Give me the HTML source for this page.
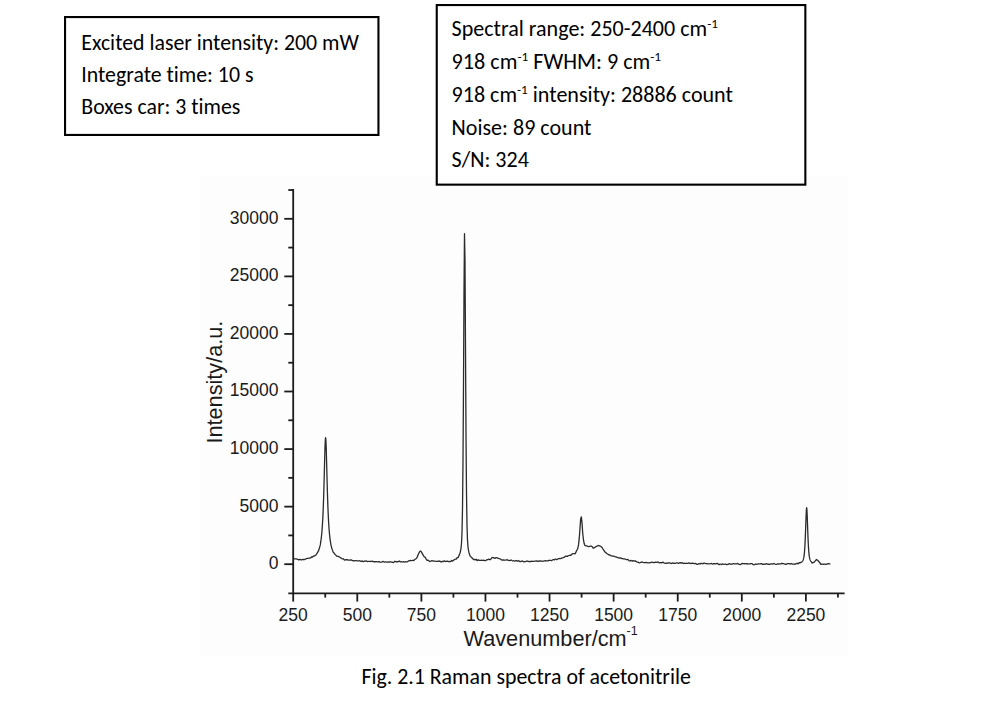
<!DOCTYPE html>
<html><head><meta charset="utf-8"><title>Raman spectra of acetonitrile</title>
<style>
html,body{margin:0;padding:0;background:#fff;width:1000px;height:722px;overflow:hidden;}
svg{position:absolute;left:0;top:0;}
.tk{font-family:"Liberation Sans",Arial,sans-serif;font-size:17.5px;fill:#1a1a1a;}
.ti{font-family:"Liberation Sans",Arial,sans-serif;font-size:21.7px;fill:#1a1a1a;}
.cb{font-family:"Carlito","Liberation Sans",sans-serif;font-size:21.7px;fill:#000;font-variant-ligatures:none;}
</style></head><body>
<svg width="1000" height="722" viewBox="0 0 1000 722">
<rect x="200" y="176" width="648" height="480" fill="#fdfdfd"/>
<line x1="293.2" y1="189.1" x2="293.2" y2="594.3" stroke="#1c1c1c" stroke-width="1.8"/>
<line x1="288.3" y1="593.4" x2="844.6" y2="593.4" stroke="#1c1c1c" stroke-width="1.8"/>
<line x1="284.3" y1="564.20" x2="293.2" y2="564.20" stroke="#1c1c1c" stroke-width="1.8"/>
<text x="278.5" y="569.10" text-anchor="end" class="tk">0</text>
<line x1="284.3" y1="506.64" x2="293.2" y2="506.64" stroke="#1c1c1c" stroke-width="1.8"/>
<text x="278.5" y="511.54" text-anchor="end" class="tk">5000</text>
<line x1="284.3" y1="449.07" x2="293.2" y2="449.07" stroke="#1c1c1c" stroke-width="1.8"/>
<text x="278.5" y="453.97" text-anchor="end" class="tk">10000</text>
<line x1="284.3" y1="391.50" x2="293.2" y2="391.50" stroke="#1c1c1c" stroke-width="1.8"/>
<text x="278.5" y="396.40" text-anchor="end" class="tk">15000</text>
<line x1="284.3" y1="333.94" x2="293.2" y2="333.94" stroke="#1c1c1c" stroke-width="1.8"/>
<text x="278.5" y="338.84" text-anchor="end" class="tk">20000</text>
<line x1="284.3" y1="276.38" x2="293.2" y2="276.38" stroke="#1c1c1c" stroke-width="1.8"/>
<text x="278.5" y="281.28" text-anchor="end" class="tk">25000</text>
<line x1="284.3" y1="218.81" x2="293.2" y2="218.81" stroke="#1c1c1c" stroke-width="1.8"/>
<text x="278.5" y="223.71" text-anchor="end" class="tk">30000</text>
<line x1="288.3" y1="535.42" x2="293.2" y2="535.42" stroke="#1c1c1c" stroke-width="1.8"/>
<line x1="288.3" y1="477.85" x2="293.2" y2="477.85" stroke="#1c1c1c" stroke-width="1.8"/>
<line x1="288.3" y1="420.29" x2="293.2" y2="420.29" stroke="#1c1c1c" stroke-width="1.8"/>
<line x1="288.3" y1="362.72" x2="293.2" y2="362.72" stroke="#1c1c1c" stroke-width="1.8"/>
<line x1="288.3" y1="305.16" x2="293.2" y2="305.16" stroke="#1c1c1c" stroke-width="1.8"/>
<line x1="288.3" y1="247.59" x2="293.2" y2="247.59" stroke="#1c1c1c" stroke-width="1.8"/>
<line x1="288.3" y1="190.03" x2="293.2" y2="190.03" stroke="#1c1c1c" stroke-width="1.8"/>
<line x1="293.20" y1="593.4" x2="293.20" y2="601.6" stroke="#1c1c1c" stroke-width="1.8"/>
<text x="293.20" y="620.9" text-anchor="middle" class="tk">250</text>
<line x1="357.29" y1="593.4" x2="357.29" y2="601.6" stroke="#1c1c1c" stroke-width="1.8"/>
<text x="357.29" y="620.9" text-anchor="middle" class="tk">500</text>
<line x1="421.38" y1="593.4" x2="421.38" y2="601.6" stroke="#1c1c1c" stroke-width="1.8"/>
<text x="421.38" y="620.9" text-anchor="middle" class="tk">750</text>
<line x1="485.46" y1="593.4" x2="485.46" y2="601.6" stroke="#1c1c1c" stroke-width="1.8"/>
<text x="485.46" y="620.9" text-anchor="middle" class="tk">1000</text>
<line x1="549.55" y1="593.4" x2="549.55" y2="601.6" stroke="#1c1c1c" stroke-width="1.8"/>
<text x="549.55" y="620.9" text-anchor="middle" class="tk">1250</text>
<line x1="613.64" y1="593.4" x2="613.64" y2="601.6" stroke="#1c1c1c" stroke-width="1.8"/>
<text x="613.64" y="620.9" text-anchor="middle" class="tk">1500</text>
<line x1="677.73" y1="593.4" x2="677.73" y2="601.6" stroke="#1c1c1c" stroke-width="1.8"/>
<text x="677.73" y="620.9" text-anchor="middle" class="tk">1750</text>
<line x1="741.81" y1="593.4" x2="741.81" y2="601.6" stroke="#1c1c1c" stroke-width="1.8"/>
<text x="741.81" y="620.9" text-anchor="middle" class="tk">2000</text>
<line x1="805.90" y1="593.4" x2="805.90" y2="601.6" stroke="#1c1c1c" stroke-width="1.8"/>
<text x="805.90" y="620.9" text-anchor="middle" class="tk">2250</text>
<line x1="325.24" y1="593.4" x2="325.24" y2="597.6" stroke="#1c1c1c" stroke-width="1.8"/>
<line x1="389.33" y1="593.4" x2="389.33" y2="597.6" stroke="#1c1c1c" stroke-width="1.8"/>
<line x1="453.42" y1="593.4" x2="453.42" y2="597.6" stroke="#1c1c1c" stroke-width="1.8"/>
<line x1="517.51" y1="593.4" x2="517.51" y2="597.6" stroke="#1c1c1c" stroke-width="1.8"/>
<line x1="581.59" y1="593.4" x2="581.59" y2="597.6" stroke="#1c1c1c" stroke-width="1.8"/>
<line x1="645.68" y1="593.4" x2="645.68" y2="597.6" stroke="#1c1c1c" stroke-width="1.8"/>
<line x1="709.77" y1="593.4" x2="709.77" y2="597.6" stroke="#1c1c1c" stroke-width="1.8"/>
<line x1="773.86" y1="593.4" x2="773.86" y2="597.6" stroke="#1c1c1c" stroke-width="1.8"/>
<line x1="837.94" y1="593.4" x2="837.94" y2="597.6" stroke="#1c1c1c" stroke-width="1.8"/>
<polyline points="293.50,558.50 294.20,558.77 294.90,558.91 295.60,558.85 296.30,558.97 297.00,559.08 297.70,559.28 298.40,559.82 299.10,559.75 299.80,559.38 300.50,559.61 301.20,559.83 301.90,559.76 302.60,559.48 303.30,559.43 304.00,559.73 304.70,559.40 305.40,559.07 306.10,558.83 306.80,558.48 307.50,558.30 308.20,558.30 308.90,558.17 309.60,558.02 310.30,558.05 311.00,557.68 311.40,556.95 311.80,556.72 312.20,557.08 312.60,557.04 313.00,556.55 313.40,556.22 313.80,556.12 314.20,555.80 314.60,555.96 315.00,555.66 315.40,555.10 315.80,555.09 316.20,554.55 316.60,553.87 317.00,553.49 317.40,552.92 317.80,551.95 318.20,551.16 318.60,550.78 319.00,549.36 319.40,547.99 319.80,546.85 320.00,545.68 320.20,545.14 320.40,544.42 320.60,542.62 320.80,541.47 321.00,540.10 321.20,538.58 321.40,536.90 321.60,535.02 321.80,532.93 322.00,530.59 322.20,527.97 322.40,525.03 322.60,521.73 322.80,518.02 323.00,513.85 323.20,509.17 323.40,503.95 323.60,498.14 323.80,491.73 324.00,484.75 324.20,477.29 324.40,469.52 324.60,461.69 324.80,454.21 325.00,447.55 325.20,442.25 325.40,438.82 325.60,437.64 325.80,438.82 326.00,442.25 326.20,447.54 326.40,454.20 326.60,461.69 326.80,469.51 327.00,477.28 327.20,484.74 327.40,491.72 327.60,498.12 327.80,503.93 328.00,509.16 328.20,513.83 328.40,518.00 328.60,521.71 328.80,525.01 329.00,527.95 329.20,530.56 329.40,532.90 329.60,534.99 329.80,536.87 330.00,538.55 330.20,540.07 330.40,541.44 330.60,542.68 330.80,543.65 331.00,545.33 331.20,546.05 331.40,546.30 331.60,547.29 331.80,548.24 332.20,549.42 332.60,550.35 333.00,551.45 333.40,552.39 333.80,552.72 334.20,553.19 334.60,553.95 335.00,554.21 335.40,554.67 335.80,555.08 336.20,555.56 336.60,556.07 337.00,556.15 337.40,556.23 337.80,556.41 338.20,556.31 338.60,556.28 339.00,556.97 339.40,556.95 339.80,557.25 340.20,557.53 340.60,557.71 341.00,558.09 341.70,558.43 342.40,558.95 343.10,558.75 343.80,559.24 344.50,560.06 345.20,559.92 345.90,559.67 346.60,559.75 347.30,559.68 348.00,560.03 348.70,560.19 349.40,560.02 350.10,560.03 350.80,559.99 351.50,559.96 352.20,560.44 352.90,560.75 353.60,560.77 354.30,560.89 355.00,560.62 355.70,560.63 356.40,560.73 357.10,560.87 357.80,560.97 358.50,560.97 359.20,560.80 359.90,560.74 360.60,561.40 361.30,561.46 362.00,560.92 362.70,561.15 363.40,561.69 364.10,561.34 364.80,561.02 365.50,561.21 366.20,560.90 366.90,561.21 367.60,561.59 368.30,561.47 369.00,561.33 369.70,561.43 370.40,561.49 371.10,561.39 371.80,561.30 372.50,561.10 373.20,561.63 373.90,561.81 374.60,561.62 375.30,561.74 376.00,561.61 376.70,561.54 377.40,561.78 378.10,561.84 378.80,561.69 379.50,561.77 380.20,562.05 380.90,562.19 381.60,562.03 382.30,561.77 383.00,561.40 383.70,561.72 384.40,562.21 385.10,561.98 385.80,561.89 386.50,562.08 387.20,562.14 387.90,562.17 388.60,561.90 389.30,562.02 390.00,561.86 390.70,561.72 391.40,562.08 392.10,562.09 392.80,562.38 393.50,562.51 394.20,561.87 394.90,561.20 395.60,561.62 396.30,561.76 397.00,561.58 397.70,561.97 398.40,561.63 399.10,561.01 399.80,561.41 400.50,561.88 401.20,561.83 401.90,561.92 402.60,561.89 403.30,561.67 404.00,561.90 404.70,562.06 405.40,561.72 406.10,561.88 406.80,561.96 407.50,561.66 408.20,561.19 408.90,560.75 409.60,560.61 410.30,560.46 411.00,560.61 411.70,560.52 412.40,560.41 413.10,560.45 413.80,560.52 414.50,559.78 415.20,559.10 415.90,558.88 416.60,558.08 417.30,556.94 418.00,555.02 418.70,553.45 419.40,552.10 420.10,551.06 420.80,551.16 421.50,552.17 422.20,553.32 422.90,554.61 423.60,555.86 424.30,556.86 425.00,557.10 425.70,558.10 426.40,559.68 427.10,560.29 427.80,560.18 428.50,560.36 429.20,561.15 429.90,561.55 430.60,561.27 431.30,560.90 432.00,560.62 432.70,560.82 433.40,561.11 434.10,561.22 434.80,561.07 435.50,561.19 436.20,561.28 436.90,561.40 437.60,561.27 438.30,561.01 439.00,561.27 439.70,561.02 440.40,561.39 441.10,561.98 441.80,561.54 442.50,561.42 443.20,561.62 443.90,560.93 444.60,560.93 445.30,561.48 446.00,561.46 446.70,561.25 447.40,561.17 448.10,561.34 448.80,561.62 449.50,561.67 450.20,561.34 450.60,561.52 451.00,561.31 451.40,560.79 451.80,560.39 452.20,560.65 452.60,561.07 453.00,560.76 453.40,560.51 453.80,560.14 454.20,559.84 454.60,559.55 455.00,559.25 455.40,559.09 455.80,559.22 456.20,559.09 456.60,558.51 457.00,557.98 457.40,557.53 457.80,557.59 458.20,557.36 458.60,556.47 459.00,555.62 459.50,554.30 460.00,553.19 460.50,551.25 461.00,548.35 461.50,543.27 462.00,532.59 462.50,508.82 463.00,461.23 463.50,384.13 464.00,292.10 464.50,233.66 465.00,260.90 465.50,347.27 466.00,433.82 466.50,493.31 467.00,525.34 467.50,540.12 468.00,546.85 468.50,550.41 469.00,552.68 469.50,554.29 470.00,555.87 470.50,556.33 471.00,556.90 471.40,557.48 471.80,557.84 472.20,557.88 472.60,558.70 473.00,558.96 473.40,559.06 473.80,559.68 474.20,559.58 474.60,559.46 475.00,559.93 475.40,559.90 475.80,559.50 476.20,559.39 476.60,559.66 477.00,560.36 477.40,560.64 477.80,560.20 478.20,559.87 478.60,559.99 479.00,560.25 479.40,560.33 479.80,560.32 480.50,560.42 481.20,560.29 481.90,560.20 482.60,560.28 483.30,560.26 484.00,560.30 484.70,560.69 485.40,560.68 486.10,560.26 486.80,559.73 487.50,559.73 488.20,559.58 488.90,559.08 489.60,559.50 490.30,559.70 491.00,558.98 491.70,557.90 492.40,557.48 493.10,557.60 493.80,557.74 494.50,558.31 495.20,558.23 495.90,557.71 496.60,557.61 497.30,557.98 498.00,558.41 498.70,558.43 499.40,558.75 500.10,558.96 500.80,559.35 501.50,559.99 502.20,560.15 502.90,559.97 503.60,559.98 504.30,560.16 505.00,560.04 505.70,560.05 506.40,559.89 507.10,559.69 507.80,560.16 508.50,560.45 509.20,560.36 509.90,560.65 510.60,560.29 511.30,559.99 512.00,560.47 512.70,560.80 513.40,560.76 514.10,560.97 514.80,561.15 515.50,560.72 516.20,560.51 516.90,560.96 517.60,561.28 518.30,560.74 519.00,560.95 519.70,561.50 520.40,561.52 521.10,561.35 521.80,561.04 522.50,560.92 523.20,561.55 523.90,561.79 524.60,561.62 525.30,561.56 526.00,561.29 526.70,561.11 527.40,561.02 528.10,561.60 528.80,561.43 529.50,561.46 530.20,561.80 530.90,561.35 531.60,561.17 532.30,561.28 533.00,561.36 533.70,561.32 534.40,561.14 535.10,561.16 535.80,561.10 536.50,560.86 537.20,561.04 537.90,561.47 538.60,561.12 539.30,560.91 540.00,561.06 540.70,560.83 541.40,561.11 542.10,561.17 542.80,561.27 543.50,561.17 544.20,560.89 544.90,560.96 545.60,560.67 546.30,560.79 547.00,560.86 547.70,560.81 548.40,560.77 549.10,560.35 549.80,560.27 550.50,560.44 551.20,560.58 551.90,560.28 552.60,559.97 553.30,559.69 554.00,559.72 554.70,559.73 555.40,559.10 556.10,559.19 556.80,559.68 557.50,559.25 558.20,558.65 558.90,558.67 559.60,558.51 560.30,558.56 561.00,558.41 561.70,557.94 562.40,557.97 563.10,557.69 563.80,557.38 564.50,557.07 565.20,556.45 565.90,555.99 566.60,556.35 567.30,556.40 568.00,555.79 568.70,555.61 569.40,555.35 570.10,555.15 570.80,555.29 571.50,554.84 572.20,553.89 572.90,553.71 573.60,553.58 574.30,553.71 575.00,553.80 575.70,552.66 576.40,551.06 577.10,549.80 577.80,548.41 578.50,544.93 579.20,538.94 579.90,529.64 580.60,519.48 581.30,516.81 582.00,522.59 582.70,533.03 583.40,539.33 584.10,543.29 584.80,545.24 585.50,545.86 586.20,545.95 586.90,545.94 587.60,546.20 588.30,546.60 589.00,546.58 589.70,546.45 590.40,546.12 591.10,546.06 591.80,546.36 592.50,547.07 593.20,548.00 593.90,548.04 594.60,547.41 595.30,547.05 596.00,546.66 596.70,546.18 597.40,545.93 598.10,545.55 598.80,545.52 599.50,545.79 600.20,546.08 600.90,546.56 601.60,547.02 602.30,547.87 603.00,549.02 603.70,550.04 604.40,551.08 605.10,552.08 605.80,552.52 606.50,553.18 607.20,553.78 607.90,554.15 608.60,554.76 609.30,554.74 610.00,555.04 610.70,555.70 611.40,555.83 612.10,555.91 612.80,556.07 613.50,556.16 614.20,556.38 614.90,556.68 615.60,556.95 616.30,557.01 617.00,557.22 617.70,557.68 618.40,557.77 619.10,557.80 619.80,558.09 620.50,557.98 621.20,558.09 621.90,558.62 622.60,558.71 623.30,558.87 624.00,558.81 624.70,558.82 625.40,559.24 626.10,559.55 626.80,559.64 627.50,559.45 628.20,559.75 628.90,560.55 629.60,560.86 630.30,560.83 631.00,560.44 631.70,560.73 632.40,561.15 633.10,560.54 633.80,560.77 634.50,561.11 635.20,560.89 635.90,561.21 636.60,561.90 637.30,562.11 638.00,562.04 638.70,562.60 639.40,562.96 640.10,562.62 640.80,562.26 641.50,562.04 642.20,561.97 642.90,562.35 643.60,562.60 644.30,562.55 645.00,562.70 645.70,562.53 646.40,562.32 647.10,562.65 647.80,562.80 648.50,562.88 649.20,562.85 649.90,562.57 650.60,562.58 651.30,562.44 652.00,562.03 652.70,562.37 653.40,562.71 654.10,562.66 654.80,562.33 655.50,562.19 656.20,562.43 656.90,562.34 657.60,562.00 658.30,562.13 659.00,562.80 659.70,562.96 660.40,562.66 661.10,562.59 661.80,562.89 662.50,562.33 663.20,562.16 663.90,562.86 664.60,563.05 665.30,563.30 666.00,563.41 666.70,563.13 667.40,562.97 668.10,563.09 668.80,562.92 669.50,562.76 670.20,563.08 670.90,563.51 671.60,563.30 672.30,562.90 673.00,562.98 673.70,563.29 674.40,563.26 675.10,563.30 675.80,563.12 676.50,562.78 677.20,562.96 677.90,563.18 678.60,563.45 679.30,562.99 680.00,562.59 680.70,562.99 681.40,563.06 682.10,562.69 682.80,563.07 683.50,563.51 684.20,563.41 684.90,563.22 685.60,563.36 686.30,563.42 687.00,563.46 687.70,563.34 688.40,562.95 689.10,563.20 689.80,563.25 690.50,563.37 691.20,563.59 691.90,563.27 692.60,563.25 693.30,563.39 694.00,563.59 694.70,563.54 695.40,563.28 696.10,563.68 696.80,564.26 697.50,564.44 698.20,564.00 698.90,563.64 699.60,563.96 700.30,563.90 701.00,563.39 701.70,563.45 702.40,563.76 703.10,563.58 703.80,563.15 704.50,563.03 705.20,563.53 705.90,563.69 706.60,563.53 707.30,563.75 708.00,563.92 708.70,563.82 709.40,563.80 710.10,563.70 710.80,563.53 711.50,563.52 712.20,563.84 712.90,564.06 713.60,563.68 714.30,563.62 715.00,563.74 715.70,563.97 716.40,563.70 717.10,563.34 717.80,563.61 718.50,564.37 719.20,564.65 719.90,564.11 720.60,564.07 721.30,564.53 722.00,564.34 722.70,563.83 723.40,564.14 724.10,564.33 724.80,564.22 725.50,564.02 726.20,564.28 726.90,564.75 727.60,564.47 728.30,564.26 729.00,563.72 729.70,563.71 730.40,564.09 731.10,564.05 731.80,564.24 732.50,564.07 733.20,563.58 733.90,563.72 734.60,563.92 735.30,563.78 736.00,563.81 736.70,563.80 737.40,563.45 738.10,563.77 738.80,564.31 739.50,564.29 740.20,564.65 740.90,564.42 741.60,563.63 742.30,563.44 743.00,563.56 743.70,563.64 744.40,563.91 745.10,563.60 745.80,563.65 746.50,563.76 747.20,563.75 747.90,564.04 748.60,563.91 749.30,563.92 750.00,563.87 750.70,563.76 751.40,563.52 752.10,563.64 752.80,564.38 753.50,564.80 754.20,564.69 754.90,564.43 755.60,564.01 756.30,564.16 757.00,564.29 757.70,563.97 758.40,563.92 759.10,563.96 759.80,563.93 760.50,563.89 761.20,563.75 761.90,563.69 762.60,564.40 763.30,564.46 764.00,563.94 764.70,564.06 765.40,564.26 766.10,563.91 766.80,563.72 767.50,564.15 768.20,564.25 768.90,564.08 769.60,564.35 770.30,564.19 771.00,563.88 771.70,563.91 772.40,564.21 773.10,563.91 773.80,563.45 774.50,563.75 775.20,564.03 775.90,564.27 776.60,564.42 777.30,563.96 778.00,563.83 778.70,564.10 779.40,563.80 780.10,563.97 780.80,563.92 781.50,563.37 782.20,563.49 782.90,563.62 783.60,563.57 784.30,563.97 785.00,564.18 785.70,564.44 786.40,564.34 787.10,563.69 787.80,563.58 788.50,563.71 789.20,563.61 789.90,563.90 790.60,564.01 791.30,563.50 792.00,563.77 792.40,564.15 792.80,564.06 793.20,564.10 793.60,564.14 794.00,564.10 794.40,564.21 794.80,564.26 795.20,564.06 795.60,564.02 796.00,563.59 796.40,563.43 796.80,563.63 797.20,563.65 797.60,563.35 798.00,563.58 798.40,563.80 798.80,563.11 799.20,562.62 799.60,562.69 800.00,562.89 800.40,562.63 800.80,562.47 801.00,562.37 801.20,562.34 801.40,562.18 801.60,561.90 801.80,561.89 802.00,561.70 802.20,561.48 802.40,561.23 802.60,560.94 802.80,560.60 803.00,560.20 803.20,559.72 803.40,559.13 803.60,558.40 803.80,557.47 804.00,556.29 804.20,554.78 804.40,552.88 804.60,550.49 804.80,547.54 805.00,543.97 805.20,539.76 805.40,534.92 805.60,529.56 805.80,523.87 806.00,518.24 806.20,513.20 806.40,509.47 806.60,507.71 806.80,508.31 807.00,511.12 807.20,515.60 807.40,521.02 807.60,526.73 807.80,532.29 808.00,537.41 808.20,541.94 808.40,545.83 808.60,549.08 808.80,551.74 809.00,553.87 809.20,555.57 809.40,556.90 809.60,557.95 809.80,558.77 810.00,559.43 810.20,559.96 810.40,560.39 810.60,560.75 810.80,561.06 811.00,561.33 811.20,561.56 811.40,561.77 811.60,561.95 811.80,562.73 812.00,562.86 812.20,562.60 812.40,562.59 812.60,562.99 812.80,562.79 813.20,562.32 813.60,562.40 814.00,562.31 814.40,561.83 814.80,561.41 815.20,560.95 815.60,560.39 816.00,560.00 816.40,559.53 816.80,559.64 817.20,560.27 817.60,560.37 818.00,560.47 818.40,561.19 818.80,561.54 819.20,561.99 819.60,562.42 820.00,562.94 820.40,563.97 820.80,564.44 821.20,564.14 821.60,564.04 822.00,564.18 822.70,564.08 823.40,564.40 824.10,564.13 824.80,564.04 825.50,564.30 826.20,564.29 826.90,564.22 827.60,563.67 828.30,563.62 829.00,563.93 829.70,563.96 830.40,564.05" fill="none" stroke="#2b2b2b" stroke-width="1.3" stroke-linejoin="round"/>
<text x="463.5" y="646.1" class="ti">Wavenumber/cm<tspan dy="-11" font-size="12.5">-1</tspan></text>
<text transform="translate(221.6,443.6) rotate(-90)" class="ti" font-size="21.9">Intensity/a.u.</text>
<rect x="65.05" y="17.05" width="313.4" height="117.9" fill="#fff" stroke="#000" stroke-width="2.1"/>
<rect x="436.75" y="5.05" width="368.6" height="179.6" fill="#fff" stroke="#000" stroke-width="2.1"/>
<text x="81.3" y="49.9" textLength="277.55" lengthAdjust="spacingAndGlyphs" class="cb">Excited laser intensity: 200 mW</text>
<text x="81.3" y="81.8" textLength="172.16" lengthAdjust="spacingAndGlyphs" class="cb">Integrate time: 10 s</text>
<text x="81.3" y="114.1" textLength="159.09" lengthAdjust="spacingAndGlyphs" class="cb">Boxes car: 3 times</text>
<text x="451.6" y="35.8" textLength="266.31" lengthAdjust="spacingAndGlyphs" class="cb">Spectral range: 250-2400 cm<tspan dy="-7.5" font-size="13">-1</tspan></text>
<text x="451.6" y="68.8" textLength="209.47" lengthAdjust="spacingAndGlyphs" class="cb">918 cm<tspan dy="-7.5" font-size="13">-1</tspan><tspan dy="7.5"> FWHM: 9 cm</tspan><tspan dy="-7.5" font-size="13">-1</tspan></text>
<text x="451.6" y="101.8" textLength="281.3" lengthAdjust="spacingAndGlyphs" class="cb">918 cm<tspan dy="-7.5" font-size="13">-1</tspan><tspan dy="7.5"> intensity: 28886 count</tspan></text>
<text x="451.6" y="135.0" textLength="139.81" lengthAdjust="spacingAndGlyphs" class="cb">Noise: 89 count</text>
<text x="451.6" y="166.5" textLength="77.23" lengthAdjust="spacingAndGlyphs" class="cb">S/N: 324</text>
<text x="361.4" y="683.7" textLength="329.48" lengthAdjust="spacingAndGlyphs" class="cb">Fig. 2.1 Raman spectra of acetonitrile</text>
</svg>
</body></html>
